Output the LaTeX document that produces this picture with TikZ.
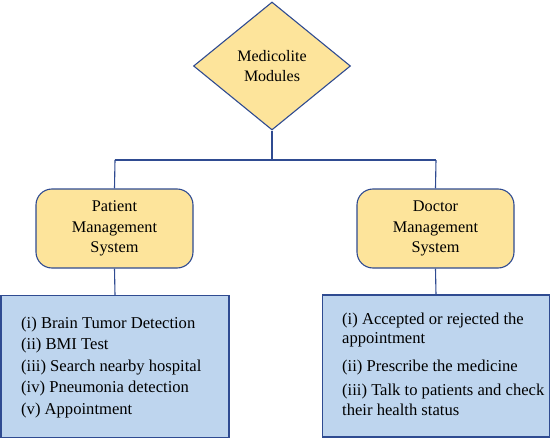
\documentclass[tikz,border=0pt]{standalone}
\usepackage{fontspec}
\setmainfont{Liberation Serif}
\usetikzlibrary{shapes.geometric}
\definecolor{boxline}{RGB}{47,75,145}
\definecolor{yfill}{RGB}{253,228,155}
\definecolor{bfill}{RGB}{190,213,238}
\begin{document}
\begin{tikzpicture}[x=1pt,y=-1pt,
  conn/.style={draw=boxline,line width=1.1pt},
  ybox/.style={draw=boxline,line width=1.1pt,fill=yfill,rounded corners=16pt,minimum width=157pt,minimum height=79pt,align=center,font=\fontsize{16.3}{20.5}\selectfont,inner sep=0pt},
  bbox/.style={draw=boxline,line width=1.1pt,fill=bfill,minimum height=142pt,inner sep=0pt},
  dia/.style={draw=boxline,line width=1.1pt,fill=yfill,diamond,minimum width=157pt,minimum height=128pt,inner sep=0pt,align=center,font=\fontsize{16}{20}\selectfont,aspect=1.23},
  btext/.style={font=\fontsize{16.6}{20}\selectfont,anchor=base west,inner sep=0pt}]
\useasboundingbox (0,0) rectangle (550,439);
\node[dia] (top) at (272,66) {Medicolite\\Modules};
\node[ybox] (pat) at (114.5,228.5) {Patient\\Management\\System};
\node[ybox] (doc) at (435.5,228.5) {Doctor\\Management\\System};
\node[bbox,minimum width=228pt] (pl) at (115,366.5) {};
\node[bbox,minimum width=227pt] (dl) at (436,366) {};
\coordinate (hl) at (115,160);
\coordinate (hr) at (436,160);
\draw[conn] (top.south) -- (272,160);
\draw[conn] (hl) -- (hr);
\draw[conn] (hl) -- (pat.north);
\draw[conn] (hr) -- (doc.north);
\draw[conn] (pat.south) -- (pl.north);
\draw[conn] (doc.south) -- (dl.north);
\node[btext] (p1) at (21,328) {(i) Brain Tumor Detection};
\node[btext] (p2) at (21,349.5) {(ii) BMI Test};
\node[btext] (p3) at (21,371) {(iii) Search nearby hospital};
\node[btext] (p4) at (21,392.5) {(iv) Pneumonia detection};
\node[btext] (p5) at (21,414) {(v) Appointment};
\node[btext] (d1) at (342,324.3) {(i) Accepted or rejected the};
\node[btext] (d2) at (342,343.5) {appointment};
\node[btext] (d3) at (342,371.7) {(ii) Prescribe the medicine};
\node[btext] (d4) at (342,395) {(iii) Talk to patients and check};
\node[btext] (d5) at (342,415) {their health status};
\end{tikzpicture}
\end{document}
